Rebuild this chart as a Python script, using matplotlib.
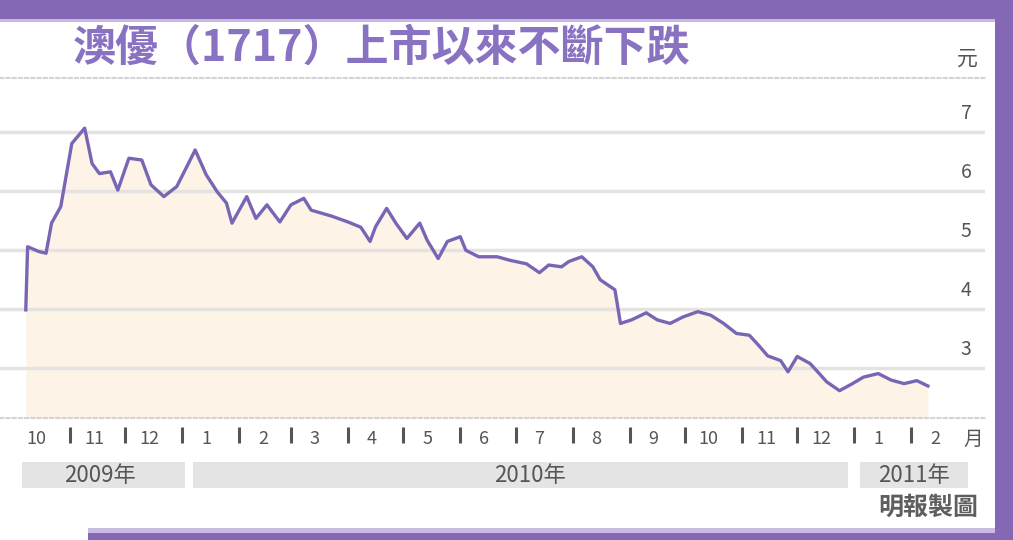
import matplotlib
matplotlib.use("Agg")
import matplotlib.pyplot as plt
from matplotlib.patches import Rectangle
import pandas as pd

plt.rcParams['font.family'] = ['Noto Sans CJK TC', 'DejaVu Sans']

# -----------------------------
# data (HK$ per share)
# -----------------------------
dates = [
    "2009-10-08", "2009-10-09", "2009-10-15", "2009-10-19", "2009-10-22", "2009-10-27",
    "2009-11-02", "2009-11-09", "2009-11-13", "2009-11-17", "2009-11-23", "2009-11-27",
    "2009-12-03", "2009-12-10", "2009-12-15", "2009-12-22", "2009-12-29",
    "2010-01-04", "2010-01-08", "2010-01-14", "2010-01-20", "2010-01-25", "2010-01-28",
    "2010-02-05", "2010-02-10", "2010-02-16", "2010-02-23",
    "2010-03-01", "2010-03-08", "2010-03-12", "2010-03-23",
    "2010-04-01", "2010-04-08", "2010-04-13", "2010-04-16", "2010-04-22", "2010-04-27",
    "2010-05-03", "2010-05-10", "2010-05-14", "2010-05-20", "2010-05-25",
    "2010-06-01", "2010-06-04", "2010-06-11", "2010-06-21", "2010-06-28",
    "2010-07-07", "2010-07-14", "2010-07-19", "2010-07-26", "2010-07-30",
    "2010-08-06", "2010-08-12", "2010-08-16", "2010-08-24", "2010-08-27",
    "2010-09-02", "2010-09-10", "2010-09-16", "2010-09-23", "2010-09-30",
    "2010-10-08", "2010-10-15", "2010-10-22", "2010-10-29",
    "2010-11-05", "2010-11-10", "2010-11-15", "2010-11-22", "2010-11-26",
    "2010-12-01", "2010-12-08", "2010-12-13", "2010-12-17", "2010-12-24", "2010-12-31",
    "2011-01-06", "2011-01-14", "2011-01-21", "2011-01-28",
    "2011-02-04", "2011-02-10",
]
prices = [
    3.98, 5.05, 4.97, 4.94, 5.45, 5.73,
    6.80, 7.06, 6.46, 6.29, 6.32, 6.01,
    6.55, 6.52, 6.10, 5.90, 6.07,
    6.44, 6.69, 6.27, 5.98, 5.79, 5.45,
    5.90, 5.53, 5.76, 5.47,
    5.76, 5.87, 5.67, 5.57,
    5.47, 5.38, 5.14, 5.39, 5.70, 5.45,
    5.19, 5.45, 5.16, 4.85, 5.14,
    5.22, 4.99, 4.88, 4.88, 4.82,
    4.76, 4.61, 4.74, 4.71, 4.80,
    4.88, 4.71, 4.49, 4.32, 3.75,
    3.81, 3.93, 3.81, 3.75, 3.86,
    3.95, 3.89, 3.75, 3.58,
    3.55, 3.38, 3.20, 3.12, 2.93,
    3.19, 3.07, 2.90, 2.76, 2.61, 2.73,
    2.84, 2.90, 2.79, 2.73,
    2.78, 2.69,
]

yticks = [3, 4, 5, 6, 7]
month_labels = ["10", "11", "12", "1", "2", "3", "4", "5", "6", "7", "8", "9",
                "10", "11", "12", "1", "2"]
year_labels = ["2009年", "2010年", "2011年"]
title = "澳優（1717）上市以來不斷下跌"

PURPLE = "#8467b5"
LINE = "#7866b4"
GREY_TXT = "#555555"

W, H = 1013, 540
def fx(px):
    return px / W
def fy(py):
    return 1 - py / H

fig = plt.figure(figsize=(W / 100, H / 100), dpi=100)
fig.patch.set_facecolor("white")

# plot area: 78px .. 418px vertically
ax = fig.add_axes([0, fy(418), fx(985), (418 - 78) / H])
ymin, ymax = 2.147, 7.91
ax.set_xlim(pd.Timestamp("2009-09-24"), pd.Timestamp("2011-03-13"))
ax.set_ylim(ymin, ymax)

d = pd.to_datetime(dates)
ax.fill_between(d, prices, ymin, color="#fdf3e6", lw=0, zorder=1)
ax.plot(d, prices, color=LINE, lw=2.4, solid_joinstyle="round", zorder=3)

ax.set_yticks(yticks)
ax.yaxis.grid(True, color="#e5e2e2", lw=2.5)
ax.set_axisbelow("line")
ax.tick_params(axis="both", length=0, labelleft=False, labelbottom=False)
ax.set_xticks([])

for s in ["left", "right"]:
    ax.spines[s].set_visible(False)
for s in ["top", "bottom"]:
    ax.spines[s].set_linestyle((0, (1.5, 1.5)))
    ax.spines[s].set_color("#d4d4d4")
    ax.spines[s].set_linewidth(1.5)

# y labels sit above their gridlines on the right
for v in yticks:
    ax.text(966 / 985, v + 0.3, str(v), transform=ax.get_yaxis_transform(),
            ha="center", va="center", fontsize=14, color=GREY_TXT)

# month separators and month labels under the plot
month_starts = pd.date_range("2009-11-01", "2011-02-01", freq="MS")
label_pos = pd.date_range("2009-10-01", "2011-02-01", freq="MS") + pd.Timedelta(days=13)
ax.vlines(month_starts, -9 / 340, -25 / 340, transform=ax.get_xaxis_transform(),
          color=GREY_TXT, lw=2.2, clip_on=False)
for xpos, lab in zip(label_pos, month_labels):
    ax.text(xpos, -21 / 340, lab, transform=ax.get_xaxis_transform(),
            ha="center", va="center", fontsize=13, color=GREY_TXT)
fig.text(fx(973), fy(439), "月", ha="center", va="center", fontsize=14, color=GREY_TXT)

# year bands
bands = [(22, 185, 100), (193, 848, 530), (860, 968, 914)]
for (x0, x1, xc), lab in zip(bands, year_labels):
    fig.add_artist(Rectangle((fx(x0), fy(488)), fx(x1 - x0), 26 / H,
                             transform=fig.transFigure, color="#e4e4e4", lw=0))
    fig.text(fx(xc), fy(475), lab, ha="center", va="center", fontsize=16, color=GREY_TXT)

fig.text(fx(928), fy(508), "明報製圖", ha="center", va="center", fontsize=18,
         fontweight="bold", color="#5e5e5e")

# title and unit
fig.text(fx(73), fy(48), title, ha="left", va="center", fontsize=31,
         fontweight="bold", color="#8a72c2")
fig.text(fx(967), fy(59), "元", ha="center", va="center", fontsize=15, color=GREY_TXT)

# purple frame
fig.add_artist(Rectangle((0, fy(19)), 1, 19 / H, transform=fig.transFigure,
                         color=PURPLE, lw=0))
fig.add_artist(Rectangle((0, fy(22)), 1, 3 / H, transform=fig.transFigure,
                         color="#c7bbe2", lw=0))
fig.add_artist(Rectangle((fx(995), 0), fx(18), 1, transform=fig.transFigure,
                         color=PURPLE, lw=0))
fig.add_artist(Rectangle((fx(88), 0), fx(907), 7 / H, transform=fig.transFigure,
                         color=PURPLE, lw=0))
fig.add_artist(Rectangle((fx(88), fy(533)), fx(907), 5 / H, transform=fig.transFigure,
                         color="#c7bbe2", lw=0))

fig.savefig("out.png", dpi=100)
